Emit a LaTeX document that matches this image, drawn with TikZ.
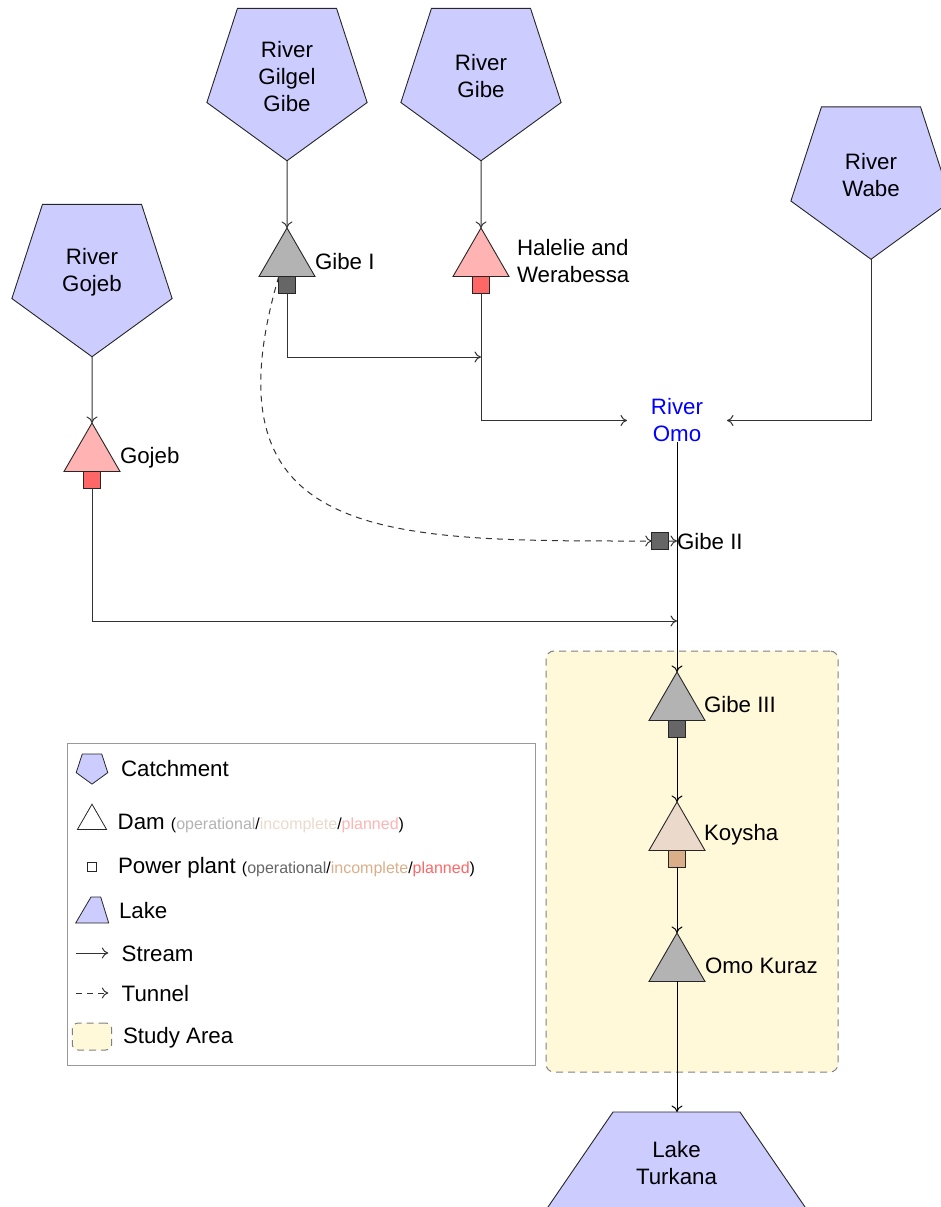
\documentclass[tikz,border=0pt]{standalone}
\usepackage{fontspec}
\setmainfont{Liberation Sans}
\usetikzlibrary{shapes.geometric,arrows.meta}
\definecolor{catch}{HTML}{CCCCFF}
\definecolor{damop}{HTML}{B3B3B3}
\definecolor{daminc}{HTML}{EBDACB}
\definecolor{dampl}{HTML}{FFB3B3}
\definecolor{ppop}{HTML}{666666}
\definecolor{ppinc}{HTML}{DAAE88}
\definecolor{pppl}{HTML}{FF6666}
\definecolor{studyc}{HTML}{FFF9DA}
\definecolor{linec}{HTML}{333333}
\begin{document}
\begin{tikzpicture}[x=1pt,y=-1pt,
  font=\fontsize{22.3}{27}\selectfont,
  catchment/.style={regular polygon, regular polygon sides=5, shape border rotate=180,
    minimum size=168.5pt, inner sep=0pt, outer sep=0pt, draw=black!85, line width=0.9pt,
    fill=catch, align=center},
  dam/.style={regular polygon, regular polygon sides=3, minimum size=64.66pt,
    inner sep=0pt, outer sep=0pt, draw=black!85, line width=0.9pt},
  plant/.style={rectangle, minimum size=16.5pt, inner sep=0pt, outer sep=0pt,
    draw=black!85, line width=0.9pt, anchor=north},
  lab/.style={inner sep=0pt, outer sep=0pt, anchor=base west},
  flow/.style={draw=linec, line width=1pt, -{To[length=6.5pt,width=11pt]}},
  tunnel/.style={flow, dash pattern=on 6pt off 5pt},
  studybox/.style={draw=black!50, line width=1pt, dash pattern=on 7pt off 5pt,
    fill=studyc, rounded corners=8pt, inner sep=0pt, outer sep=0pt},
]
\useasboundingbox (0,0) rectangle (941,1207);
\clip (0,0) rectangle (941,1207);

% study area
\node[studybox, minimum width=292pt, minimum height=421pt] (study) at (692,861.5) {};

% legend
\node[draw=black!40, line width=1pt, minimum width=468pt, minimum height=322pt,
  inner sep=0pt, outer sep=0pt] (legend) at (301,904) {};
\node[catchment, minimum size=33.2pt, line width=0.8pt] (lgc) at (92,767.5) {};
\node[lab] (lgct) at (121,776) {Catchment};
\node[dam, minimum size=33.6pt, fill=white, line width=0.8pt] (lgd) at (92,821) {};
\node[lab] (lgdt) at (117.7,829) {Dam {\fontsize{16}{19}\selectfont(\textcolor{damop}{operational}/\textcolor{daminc}{incomplete}/\textcolor{dampl}{planned})}};
\node[plant, minimum size=9pt, fill=white, anchor=center, line width=0.8pt] (lgp) at (92,867) {};
\node[lab] (lgpt) at (118,873) {Power plant {\fontsize{16}{19}\selectfont(\textcolor{ppop}{operational}/\textcolor{ppinc}{incomplete}/\textcolor{pppl}{planned})}};
\filldraw[fill=catch, draw=black!85, line width=0.8pt] (75.7,923) -- (91,897) -- (100.7,897) -- (108.7,923) -- cycle;
\node[lab] (lglt) at (119,918) {Lake};
\coordinate (ls1) at (75.7,953);
\coordinate (ls2) at (108.3,953);
\draw[flow] (ls1) -- (ls2);
\node[lab] (lgst) at (121.7,961.7) {Stream};
\coordinate (lt1) at (75.7,993);
\coordinate (lt2) at (108.3,993);
\draw[tunnel] (lt1) -- (lt2);
\node[lab] (lgtt) at (121.7,1001) {Tunnel};
\node[studybox, minimum width=39.4pt, minimum height=27pt, rounded corners=6pt] (lgsa) at (92,1036.5) {};
\node[lab] (lgsat) at (123,1043.3) {Study Area};

% catchments
\node[catchment] (gilgel) at (287,76.5) {River\\Gilgel\\Gibe};
\node[catchment] (gibe) at (481,76.5) {River\\Gibe};
\node[catchment] (wabe) at (871,175) {River\\Wabe};
\node[catchment] (gojebr) at (92,272.5) {River\\Gojeb};

% dams
\node[dam, fill=damop] (d1) at (287,260.3) {};
\node[plant, fill=ppop] (p1) at (d1.south) {};
\node[lab] (l1) at (315,269) {Gibe I};

\node[dam, fill=dampl] (d2) at (481,260.3) {};
\node[plant, fill=pppl] (p2) at (d2.south) {};
\node[inner sep=0pt, outer sep=0pt, anchor=west, align=left] (l2) at (517,261) {Halelie and\\Werabessa};

\node[dam, fill=dampl] (d3) at (92,455.3) {};
\node[plant, fill=pppl] (p3) at (d3.south) {};
\node[lab] (l3) at (120,463) {Gojeb};

\node[inner sep=0pt, outer sep=0pt, minimum width=100pt, align=center, text=blue] (omo) at (677,420.5) {River\\Omo};

\node[plant, fill=ppop, anchor=center] (p4) at (660,541) {};
\node[lab] (l4) at (677,549) {Gibe II};

\node[dam, fill=damop] (d5) at (677,704.3) {};
\node[plant, fill=ppop] (p5) at (d5.south) {};
\node[lab] (l5) at (704,712) {Gibe III};

\node[dam, fill=daminc] (d6) at (677,834.3) {};
\node[plant, fill=ppinc] (p6) at (d6.south) {};
\node[lab] (l6) at (704,840) {Koysha};

\node[dam, fill=damop] (d7) at (677,965.3) {};
\node[lab] (l7) at (705,973) {Omo Kuraz};

% lake
\filldraw[fill=catch, draw=black!85, line width=0.9pt] (542.5,1215) -- (613,1112) -- (740,1112) -- (810.5,1215);
\coordinate (laketop) at (677,1112);
\node[inner sep=0pt, outer sep=0pt, align=center] (lake) at (676.5,1163.5) {Lake\\Turkana};

% junctions
\coordinate (j1) at (481,357);
\coordinate (j2) at (677,621);

% connectors
\draw[flow] (gilgel.south) -- (d1.north);
\draw[flow] (gibe.south) -- (d2.north);
\draw[flow] (gojebr.south) -- (d3.north);
\draw[flow] (p1.south) |- (j1);
\draw[flow] (p2.south) |- (omo.west);
\draw[flow] (wabe.south) |- (omo.east);
\draw[flow, draw=black] (omo.south) -- (d5.north);
\draw[tunnel] (p1.north west) .. controls (200,545) and (390,541) .. (p4.west);
\draw[flow] (p4.east) -- (l4.west);
\draw[flow] (p3.south) |- (j2);
\draw[flow, draw=black] (p5.south) -- (d6.north);
\draw[flow, draw=black] (p6.south) -- (d7.north);
\draw[flow, draw=black] (d7.south) -- (laketop);
\end{tikzpicture}
\end{document}
